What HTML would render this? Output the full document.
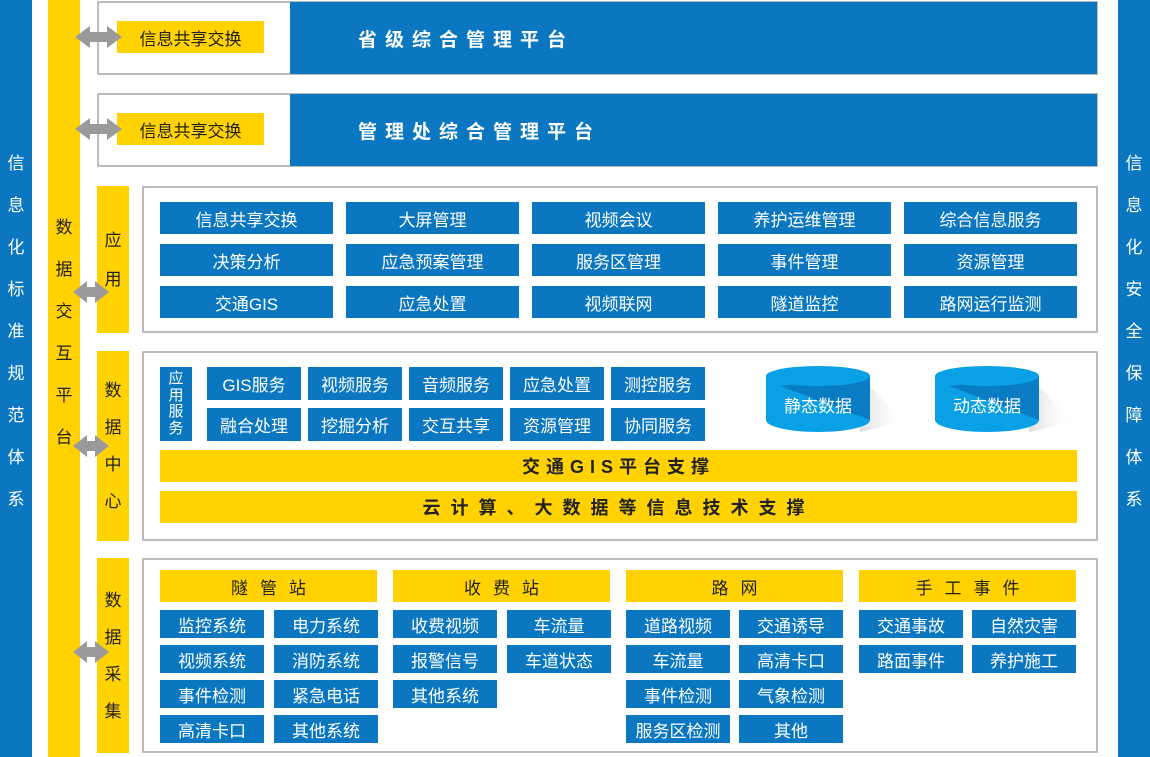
<!DOCTYPE html>
<html><head><meta charset="utf-8"><style>
*{margin:0;padding:0;box-sizing:border-box}
body{width:1150px;height:757px;position:relative;background:#fff;font-family:"Liberation Sans","Noto Sans CJK SC",sans-serif;overflow:hidden}
div{position:absolute}
.bl{background:#0a77c0;color:#fff;display:flex;align-items:center;justify-content:center;font-size:17px}
.y{background:#ffd200;color:#222;display:flex;align-items:center;justify-content:center;font-size:17px}
.box{border:2px solid #bbb;background:#fff}
.v{display:flex;flex-direction:column;align-items:center;justify-content:center;font-size:17px;line-height:1}
.s{width:94px;height:33px}
.t{width:104px;height:28px}
.h{width:217px;height:32px;letter-spacing:12px;padding-left:12px}
</style></head><body>
<div class="bl v" style="left:0;top:0;width:32px;height:757px;justify-content:flex-start;padding-top:155px;gap:25px"><span>信</span><span>息</span><span>化</span><span>标</span><span>准</span><span>规</span><span>范</span><span>体</span><span>系</span></div>
<div class="bl v" style="left:1118px;top:0;width:32px;height:757px;justify-content:flex-start;padding-top:155px;gap:25px"><span>信</span><span>息</span><span>化</span><span>安</span><span>全</span><span>保</span><span>障</span><span>体</span><span>系</span></div>
<div class="y v" style="left:48px;top:0;width:32px;height:757px;justify-content:flex-start;padding-top:219px;gap:25px"><span>数</span><span>据</span><span>交</span><span>互</span><span>平</span><span>台</span></div>

<div class="box" style="left:97px;top:1px;width:1001px;height:74px"></div>
<div class="bl" style="left:290px;top:2px;width:807px;height:72px;font-weight:bold;letter-spacing:8px;font-size:19px;justify-content:flex-start;padding-left:68px">省级综合管理平台</div>
<div class="y" style="left:117px;top:21px;width:147px;height:32px">信息共享交换</div>
<div class="box" style="left:97px;top:93px;width:1001px;height:74px"></div>
<div class="bl" style="left:290px;top:94px;width:807px;height:72px;font-weight:bold;letter-spacing:8px;font-size:19px;justify-content:flex-start;padding-left:68px">管理处综合管理平台</div>
<div class="y" style="left:117px;top:113px;width:147px;height:32px">信息共享交换</div>

<div class="y v" style="left:97px;top:186px;width:32px;height:147px;gap:22px"><span>应</span><span>用</span></div>
<div class="box" style="left:142px;top:186px;width:956px;height:147px"></div>
<div class="bl" style="left:160px;top:202px;width:173px;height:32px">信息共享交换</div>
<div class="bl" style="left:346px;top:202px;width:173px;height:32px">大屏管理</div>
<div class="bl" style="left:532px;top:202px;width:173px;height:32px">视频会议</div>
<div class="bl" style="left:718px;top:202px;width:173px;height:32px">养护运维管理</div>
<div class="bl" style="left:904px;top:202px;width:173px;height:32px">综合信息服务</div>
<div class="bl" style="left:160px;top:244px;width:173px;height:32px">决策分析</div>
<div class="bl" style="left:346px;top:244px;width:173px;height:32px">应急预案管理</div>
<div class="bl" style="left:532px;top:244px;width:173px;height:32px">服务区管理</div>
<div class="bl" style="left:718px;top:244px;width:173px;height:32px">事件管理</div>
<div class="bl" style="left:904px;top:244px;width:173px;height:32px">资源管理</div>
<div class="bl" style="left:160px;top:286px;width:173px;height:32px">交通GIS</div>
<div class="bl" style="left:346px;top:286px;width:173px;height:32px">应急处置</div>
<div class="bl" style="left:532px;top:286px;width:173px;height:32px">视频联网</div>
<div class="bl" style="left:718px;top:286px;width:173px;height:32px">隧道监控</div>
<div class="bl" style="left:904px;top:286px;width:173px;height:32px">路网运行监测</div>

<div class="y v" style="left:97px;top:351px;width:32px;height:190px;gap:20px"><span>数</span><span>据</span><span>中</span><span>心</span></div>
<div class="box" style="left:142px;top:351px;width:956px;height:190px"></div>
<div class="bl v" style="left:160px;top:367px;width:32px;height:74px;font-size:15px;line-height:1.1">应<br>用<br>服<br>务</div>
<div class="bl s" style="left:207px;top:367px">GIS服务</div>
<div class="bl s" style="left:308px;top:367px">视频服务</div>
<div class="bl s" style="left:409px;top:367px">音频服务</div>
<div class="bl s" style="left:510px;top:367px">应急处置</div>
<div class="bl s" style="left:611px;top:367px">测控服务</div>
<div class="bl s" style="left:207px;top:408px">融合处理</div>
<div class="bl s" style="left:308px;top:408px">挖掘分析</div>
<div class="bl s" style="left:409px;top:408px">交互共享</div>
<div class="bl s" style="left:510px;top:408px">资源管理</div>
<div class="bl s" style="left:611px;top:408px">协同服务</div>
<svg style="position:absolute;left:760px;top:362px" width="320" height="80">
<defs><linearGradient id="g" x1="0" x2="1"><stop offset="0" stop-color="#ddd"/><stop offset="1" stop-color="#fff" stop-opacity="0"/></linearGradient></defs>
<polygon points="100,14 145,60 100,70" fill="url(#g)"/>
<path d="M6,14 L6,58 A52,12 0 0 0 110,58 L110,14 Z" fill="#0aa0e6"/>
<polygon points="20,24 110,14 110,58" fill="#0a7cc4"/>
<ellipse cx="58" cy="14" rx="52" ry="10" fill="#0aa0e6"/>
<polygon points="269,14 314,60 269,70" fill="url(#g)"/>
<path d="M175,14 L175,58 A52,12 0 0 0 279,58 L279,14 Z" fill="#0aa0e6"/>
<polygon points="189,24 279,14 279,58" fill="#0a7cc4"/>
<ellipse cx="227" cy="14" rx="52" ry="10" fill="#0aa0e6"/>
<text x="58" y="50" fill="#fff" font-size="17" text-anchor="middle" font-family="Liberation Sans,Noto Sans CJK SC,sans-serif">静态数据</text>
<text x="227" y="50" fill="#fff" font-size="17" text-anchor="middle" font-family="Liberation Sans,Noto Sans CJK SC,sans-serif">动态数据</text>
</svg>
<div class="y" style="left:160px;top:450px;width:917px;height:32px;font-weight:bold;letter-spacing:6px;font-size:18px">交通GIS平台支撑</div>
<div class="y" style="left:160px;top:491px;width:917px;height:32px;font-weight:bold;letter-spacing:10px;font-size:18px">云计算、大数据等信息技术支撑</div>

<div class="y v" style="left:97px;top:558px;width:32px;height:195px;gap:20px"><span>数</span><span>据</span><span>采</span><span>集</span></div>
<div class="box" style="left:142px;top:558px;width:956px;height:195px"></div>
<div class="y h" style="left:160px;top:570px">隧管站</div>
<div class="y h" style="left:393px;top:570px">收费站</div>
<div class="y h" style="left:626px;top:570px">路网</div>
<div class="y h" style="left:859px;top:570px">手工事件</div>
<div class="bl t" style="left:160px;top:610px">监控系统</div>
<div class="bl t" style="left:274px;top:610px">电力系统</div>
<div class="bl t" style="left:160px;top:645px">视频系统</div>
<div class="bl t" style="left:274px;top:645px">消防系统</div>
<div class="bl t" style="left:160px;top:680px">事件检测</div>
<div class="bl t" style="left:274px;top:680px">紧急电话</div>
<div class="bl t" style="left:160px;top:715px">高清卡口</div>
<div class="bl t" style="left:274px;top:715px">其他系统</div>
<div class="bl t" style="left:393px;top:610px">收费视频</div>
<div class="bl t" style="left:507px;top:610px">车流量</div>
<div class="bl t" style="left:393px;top:645px">报警信号</div>
<div class="bl t" style="left:507px;top:645px">车道状态</div>
<div class="bl t" style="left:393px;top:680px">其他系统</div>
<div class="bl t" style="left:626px;top:610px">道路视频</div>
<div class="bl t" style="left:739px;top:610px">交通诱导</div>
<div class="bl t" style="left:626px;top:645px">车流量</div>
<div class="bl t" style="left:739px;top:645px">高清卡口</div>
<div class="bl t" style="left:626px;top:680px">事件检测</div>
<div class="bl t" style="left:739px;top:680px">气象检测</div>
<div class="bl t" style="left:626px;top:715px">服务区检测</div>
<div class="bl t" style="left:739px;top:715px">其他</div>
<div class="bl t" style="left:859px;top:610px">交通事故</div>
<div class="bl t" style="left:972px;top:610px">自然灾害</div>
<div class="bl t" style="left:859px;top:645px">路面事件</div>
<div class="bl t" style="left:972px;top:645px">养护施工</div>

<svg style="position:absolute;left:0;top:0" width="1150" height="757">
<g fill="#9a9a9a">
<path d="M75,37 L90,26 L90,32 L107,32 L107,26 L122,37 L107,48 L107,42 L90,42 L90,48 Z"/>
<path d="M75,129 L90,118 L90,124 L107,124 L107,118 L122,129 L107,140 L107,134 L90,134 L90,140 Z"/>
<path d="M73,292 L87,281 L87,287 L95,287 L95,281 L109,292 L95,303 L95,297 L87,297 L87,303 Z"/>
<path d="M73,446 L87,435 L87,441 L95,441 L95,435 L109,446 L95,457 L95,451 L87,451 L87,457 Z"/>
<path d="M73,652 L87,641 L87,647 L95,647 L95,641 L109,652 L95,663 L95,657 L87,657 L87,663 Z"/>
</g></svg>
</body></html>
